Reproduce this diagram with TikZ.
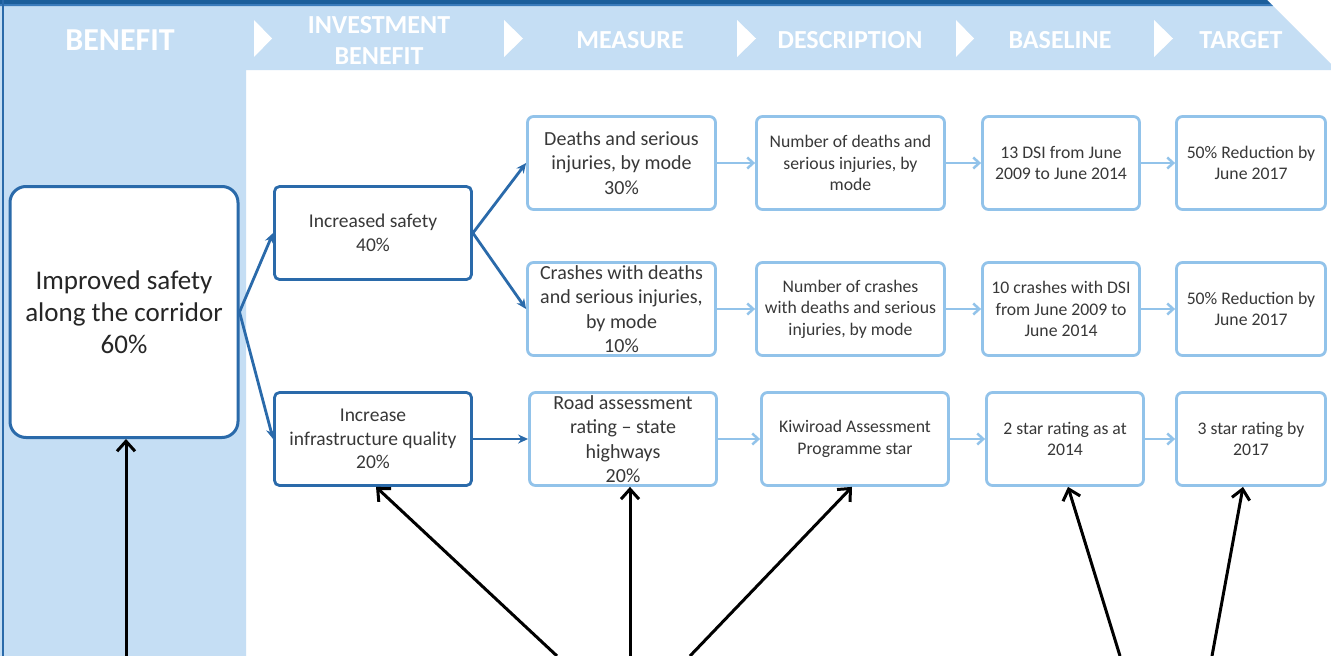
\documentclass[tikz,border=0pt]{standalone}
\usepackage{fontspec}
\setmainfont{Carlito}
\usetikzlibrary{arrows.meta,calc}
\definecolor{dkblue}{HTML}{2A6AAA}
\definecolor{ltblue}{HTML}{92C3EA}
\definecolor{colfill}{HTML}{C5DEF4}
\definecolor{band}{HTML}{1B5E9B}
\definecolor{bandlt}{HTML}{3A7BBB}
\definecolor{txt}{HTML}{383838}
\tikzset{
  hdr/.style={text=white, font=\fontsize{26}{31}\selectfont\bfseries, align=center, inner sep=0pt},
  bigbox/.style={draw=dkblue, line width=3pt, rounded corners=16pt, fill=white, align=center, text=black!85,
    font=\fontsize{27}{32}\selectfont, minimum width=228pt, minimum height=251pt, inner sep=2pt},
  invbox/.style={draw=dkblue, line width=2.8pt, rounded corners=5pt, fill=white, align=center, text=txt,
    font=\fontsize{19.5}{23.5}\selectfont, minimum width=197pt, minimum height=93pt, inner sep=2pt},
  measbox/.style={draw=ltblue, line width=2.8pt, rounded corners=6pt, fill=white, align=center, text=txt,
    font=\fontsize{20}{24.3}\selectfont, minimum height=93pt, inner sep=2pt},
  descbox/.style={measbox, font=\fontsize{17.7}{21.5}\selectfont},
  dkarrow/.style={draw=dkblue, line width=2.8pt, -{Stealth[length=10pt,width=9pt]}},
  ltarrow/.style={draw=ltblue, line width=2.5pt, -{Straight Barb[length=6pt,width=11pt]}},
  blkarrow/.style={draw=black, line width=3pt, -{Straight Barb[length=10pt,width=18pt]}},
  chev/.style={fill=white}
}
\begin{document}
\begin{tikzpicture}[x=1pt,y=-1pt]
\useasboundingbox (0,0) rectangle (1331,656);
% background
\fill[white] (0,0) rectangle (1331,656);
\fill[colfill] (0,5) -- (1272,5) -- (1331,64) -- (1331,70) -- (246,70) -- (246,656) -- (0,656) -- cycle;
\fill[band] (0,0) -- (1267,0) -- (1271,4) -- (0,4) -- cycle;
\fill[bandlt] (0,4) -- (1271,4) -- (1273,6) -- (0,6) -- cycle;
\fill[dkblue] (1.5,0) rectangle (3.5,656);
% chevrons
\fill[chev] (254,20) -- (272,38.5) -- (254,57) -- cycle;
\fill[chev] (504,20) -- (523,38.5) -- (504,57) -- cycle;
\fill[chev] (737,20) -- (756,38.5) -- (737,57) -- cycle;
\fill[chev] (956,20) -- (974,38.5) -- (956,57) -- cycle;
\fill[chev] (1154,20) -- (1173,38.5) -- (1154,57) -- cycle;
% header labels
\node[hdr, font=\fontsize{32}{38}\selectfont\bfseries] (h1) at (120,40) {BENEFIT};
\node[hdr] (h2) at (379,40) {INVESTMENT\\BENEFIT};
\node[hdr] (h3) at (630,40) {MEASURE};
\node[hdr] (h4) at (850,40) {DESCRIPTION};
\node[hdr] (h5) at (1060,40) {BASELINE};
\node[hdr] (h6) at (1241,40) {TARGET};
% boxes
\node[bigbox] (A) at (124,312) {Improved safety\\along the corridor\\60\%};
\node[invbox] (B) at (373,233) {Increased safety\\40\%};
\node[invbox] (C) at (373,439) {Increase\\infrastructure quality\\20\%};
\node[measbox, minimum width=188pt] (D) at (621.5,163) {Deaths and serious\\injuries, by mode\\30\%};
\node[descbox, minimum width=188pt] (E) at (850.5,163) {Number of deaths and\\serious injuries, by\\mode};
\node[descbox, minimum width=157pt] (F) at (1061,163) {13 DSI from June\\2009 to June 2014};
\node[descbox, minimum width=149pt] (G) at (1251,163) {50\% Reduction by\\June 2017};
\node[measbox, minimum width=188pt] (H) at (621.5,309) {Crashes with deaths\\and serious injuries,\\by mode\\10\%};
\node[descbox, minimum width=188pt] (I) at (850.5,309) {Number of crashes\\with deaths and serious\\injuries, by mode};
\node[descbox, minimum width=157pt] (J) at (1061,309) {10 crashes with DSI\\from June 2009 to\\June 2014};
\node[descbox, minimum width=149pt] (K) at (1251,309) {50\% Reduction by\\June 2017};
\node[measbox, minimum width=187pt] (L) at (623,439) {Road assessment\\rating – state\\highways\\20\%};
\node[descbox, minimum width=187pt] (M) at (855,439) {Kiwiroad Assessment\\Programme star};
\node[descbox, minimum width=157pt] (N) at (1065,439) {2 star rating as at\\2014};
\node[descbox, minimum width=149pt] (O) at (1251,439) {3 star rating by\\2017};
% dark connectors
\draw[dkarrow] (A.east) -- (B.west);
\draw[dkarrow] (A.east) -- (C.west);
\draw[dkarrow] (B.east) -- (D.west);
\draw[dkarrow] (B.east) -- (H.west);
\draw[dkarrow] (C.east) -- (L.west);
% light connectors
\draw[ltarrow] (D) -- (E);
\draw[ltarrow] (E) -- (F);
\draw[ltarrow] (F) -- (G);
\draw[ltarrow] (H) -- (I);
\draw[ltarrow] (I) -- (J);
\draw[ltarrow] (J) -- (K);
\draw[ltarrow] (L) -- (M);
\draw[ltarrow] (M) -- (N);
\draw[ltarrow] (N) -- (O);
% black arrows from below
\coordinate (b1) at (126,656);
\coordinate (b2) at (557,656);
\coordinate (b3) at (630,656);
\coordinate (b4) at (690,656);
\coordinate (b5) at (1120,656);
\coordinate (b6) at (1212,656);
\draw[blkarrow] (b1) -- (b1 |- A.south);
\draw[blkarrow] (b2) -- ($(C.south)+(3,0)$);
\draw[blkarrow] (b3) -- (b3 |- L.south);
\draw[blkarrow] (b4) -- ($(M.south)+(-3,0)$);
\draw[blkarrow] (b5) -- ($(N.south)+(3,0)$);
\draw[blkarrow] (b6) -- ($(O.south)+(-8,0)$);
\end{tikzpicture}
\end{document}
